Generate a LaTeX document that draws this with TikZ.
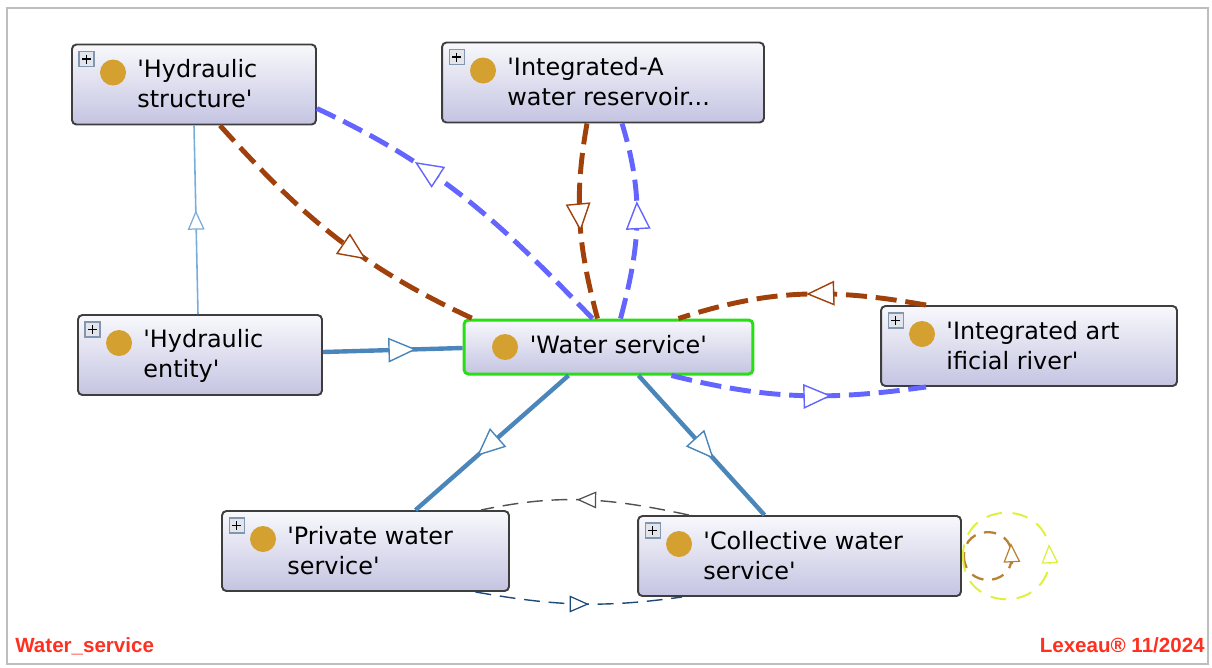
\documentclass[tikz,border=0pt]{standalone}
\usepackage{fontspec}
\newfontfamily\clsfont{DejaVu Sans}
\newfontfamily\footfont{Liberation Sans}
\usetikzlibrary{arrows.meta,calc,decorations.markings}
\definecolor{boxtop}{RGB}{248,248,252}
\definecolor{boxbot}{RGB}{196,196,226}
\definecolor{boxline}{RGB}{62,62,62}
\definecolor{selgreen}{RGB}{40,222,20}
\definecolor{dotgold}{RGB}{212,160,48}
\definecolor{plusline}{RGB}{130,150,175}
\definecolor{plusfill}{RGB}{226,229,236}
\definecolor{steel}{RGB}{74,134,186}
\definecolor{steellt}{RGB}{122,172,218}
\definecolor{rust}{RGB}{160,64,10}
\definecolor{lilac}{RGB}{100,100,255}
\definecolor{navydash}{RGB}{30,74,120}
\definecolor{graydash}{RGB}{80,80,80}
\definecolor{loopbrown}{RGB}{184,130,50}
\definecolor{loopyellow}{RGB}{222,240,60}
\definecolor{footred}{RGB}{255,48,32}
\definecolor{framegray}{RGB}{190,190,190}

\tikzset{
  tri/.tip={Triangle[open,fill=white,line width=0.8pt,length=16pt,width=14pt]},
  trism/.tip={Triangle[open,fill=white,line width=0.7pt,length=11pt,width=9.5pt]},
  midtip/.style={postaction={decorate,decoration={markings,mark=at position #1 with {\arrow{tri}}}}},
  midsm/.style={postaction={decorate,decoration={markings,mark=at position #1 with {\arrow{trism}}}}},
  boxbase/.style={draw=boxline,line width=1.1pt,rounded corners=2.5pt,top color=boxtop,bottom color=boxbot,
    inner sep=0pt,minimum height=1.6cm},
  cls/.style={boxbase,path picture={
      \fill[dotgold] ($(path picture bounding box.north west)+(41,28)$) circle[radius=0.26cm];
      \draw[sharp corners,plusline,line width=0.6pt,fill=plusfill]
        ($(path picture bounding box.north west)+(7,7)$) rectangle ++(15,15);
      \draw[sharp corners,black,line width=0.8pt]
        ($(path picture bounding box.north west)+(10,14.5)$) -- ++(9,0)
        ($(path picture bounding box.north west)+(14.5,10)$) -- ++(0,9);}},
  selcls/.style={boxbase,draw=selgreen,line width=1.7pt,minimum height=1.08cm,path picture={
      \fill[dotgold] ($(path picture bounding box.west)+(41,0)$) circle[radius=0.26cm];}},
  lbl/.style={anchor=base west,align=left,inner sep=0pt,font=\clsfont\fontsize{13.6pt}{17pt}\selectfont},
  isa/.style={steel,line width=2.5pt},
  isalt/.style={steellt,line width=0.9pt},
  fat/.style={line width=2.8pt,dash pattern=on 12pt off 5pt},
  fine/.style={line width=0.8pt,dash pattern=on 9pt off 5pt},
  selfb/.style={loopbrown,line width=1.3pt,dash pattern=on 7pt off 5pt},
  selfy/.style={loopyellow,line width=1.1pt,dash pattern=on 9pt off 6pt},
  foot/.style={inner sep=0pt,text=footred,font=\footfont\bfseries\fontsize{11.7pt}{14pt}\selectfont}
}

\begin{document}
\begin{tikzpicture}[x=0.02cm,y=-0.02cm]
  \useasboundingbox (0,0) rectangle (1212,667);
  \draw[framegray,line width=1.4pt] (7,8) rectangle (1208,664);

  % classes
  \node[cls,minimum width=4.88cm] (hstruct) at (194,84.5) {};
  \node[cls,minimum width=6.44cm] (reservoir) at (603,82.5) {};
  \node[cls,minimum width=4.88cm] (hentity) at (200,355) {};
  \node[selcls,minimum width=5.78cm] (wservice) at (608.5,347) {};
  \node[cls,minimum width=5.92cm] (river) at (1029,346) {};
  \node[cls,minimum width=5.74cm] (private) at (365.5,551) {};
  \node[cls,minimum width=6.46cm] (collective) at (799.5,556) {};

  % base anchor = last line
  \node[lbl] (hstruct-t) at ($(hstruct.north west)+(66,64)$) {'Hydraulic\\structure'};
  \node[lbl] (reservoir-t) at ($(reservoir.north west)+(66,64)$) {'Integrated-A\\water reservoir...};
  \node[lbl] (hentity-t) at ($(hentity.north west)+(66,63)$) {'Hydraulic\\entity'};
  \node[lbl] (wservice-t) at ($(wservice.west)+(67,6)$) {'Water service'};
  \node[lbl] (river-t) at ($(river.north west)+(66,64)$) {'Integrated art\\ificial river'};
  \node[lbl] (private-t) at ($(private.north west)+(66,64)$) {'Private water\\service'};
  \node[lbl] (collective-t) at ($(collective.north west)+(66,64)$) {'Collective water\\service'};

  % subclass links
  \draw[isalt,midsm=0.55] ($(hentity.north)+(-2,0)$) -- (hstruct.south);
  \draw[isa,midtip=0.67] ($(hentity.east)+(0,-3)$) -- ($(wservice.west)+(0,1)$);
  \draw[isa,midtip=0.6] ($(wservice.south)+(-40,0)$) -- ($(private.north)+(50,0)$);
  \draw[isa,midtip=0.6] ($(wservice.south)+(30,0)$) -- ($(collective.north)+(-35,0)$);

  % relations
  \draw[fat,rust,midtip=0.62] ($(hstruct.south)+(26,0)$) to[out=-48,in=155] ($(wservice.north west)+(10,0)$);
  \draw[fat,lilac,midtip=0.68] ($(wservice.north)+(-16,0)$) to[out=134,in=-25] ($(hstruct.east)+(0,24)$);
  \draw[fat,rust,midtip=0.55] ($(reservoir.south)+(-16,0)$) to[out=-100,in=105] ($(wservice.north)+(-11,0)$);
  \draw[fat,lilac,midtip=0.6] ($(wservice.north)+(12,0)$) to[out=75,in=-73] ($(reservoir.south)+(19,0)$);
  \draw[fat,rust,midtip=0.48] ($(river.north west)+(46,0)$) to[out=170,in=18] ($(wservice.north east)+(-76,0)$);
  \draw[fat,lilac,midtip=0.63] ($(wservice.south east)+(-83,0)$) to[out=-14,in=-172] ($(river.south west)+(46,0)$);
  \draw[fine,graydash,midsm=0.54] ($(collective.north west)+(52,0)$) to[out=168,in=12] ($(private.north east)+(-29,0)$);
  \draw[fine,navydash,midsm=0.55] ($(private.south)+(110,0)$) to[out=-10,in=188] ($(collective.south west)+(45,0)$);

  % self links
  \draw[selfb] ($(collective.east)+(2,0)$) to[out=-90,in=-90,looseness=1.7] ++(48,0)
    to[out=90,in=90,looseness=1.7] ($(collective.east)+(2,0)$);
  \draw[selfb,solid,-{trism}] ($(collective.east)+(50,8)$) -- ($(collective.east)+(49,-13)$);
  \draw[selfy] ($(collective.east)+(1,0)$) to[out=-90,in=-90,looseness=1.7] ++(87,0)
    to[out=90,in=90,looseness=1.7] ($(collective.east)+(1,0)$);
  \draw[selfy,solid,-{trism}] ($(collective.east)+(88,8)$) -- ($(collective.east)+(87,-12)$);

  \node[foot,anchor=base west] (diagname) at (15,652) {Water\_service};
  \node[foot,anchor=base east] (stamp) at (1205,652) {Lexeau® 11/2024};
\end{tikzpicture}
\end{document}
